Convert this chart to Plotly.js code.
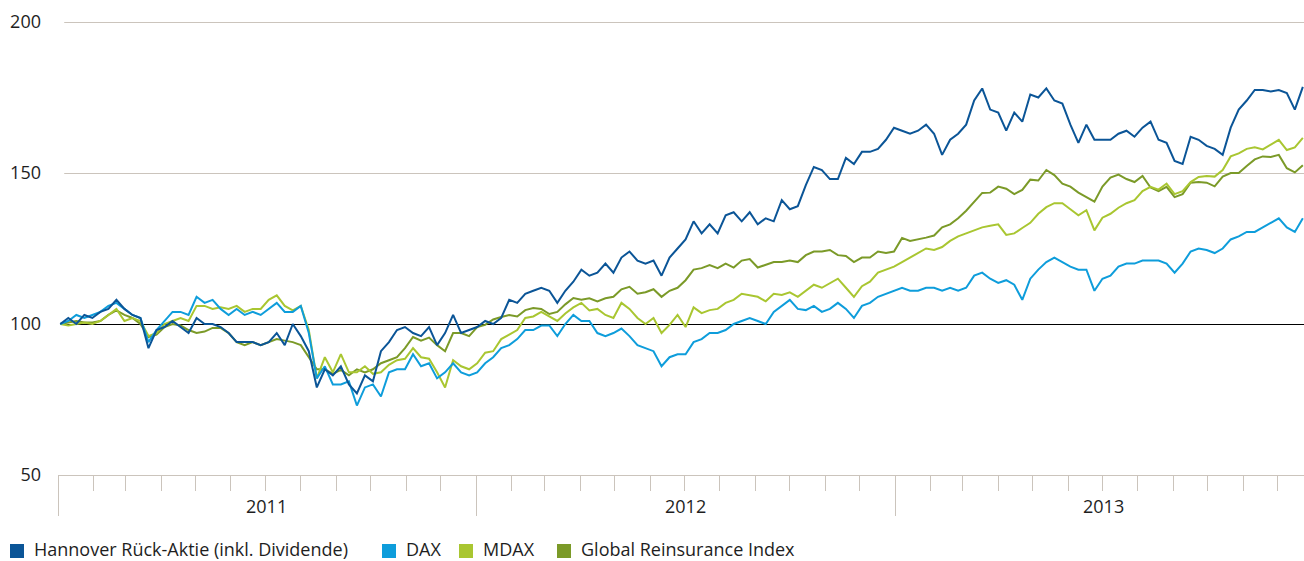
<!DOCTYPE html>
<html>
<head>
<meta charset="utf-8">
<script src="https://cdn.plot.ly/plotly-3.0.1.min.js"></script>
<style>
html,body{margin:0;padding:0;background:#ffffff;}
#chart{width:1304px;height:561px;}
</style>
</head>
<body>
<div id="chart"></div>
<script>
// ---- data (weekly index values, start = 100) ----
const seriesNames = ['Hannover Rück-Aktie (inkl. Dividende)', 'DAX', 'MDAX', 'Global Reinsurance Index'];
const firstWeek = '2011-01-03';
const yearLabels = ['2011', '2012', '2013'];
const yTicks = [50, 100, 150, 200];
const gridValues = [150, 200];
const baseValue = 100;

const hannover = [100,102,100,103,102,104,105,108,105,103, 102,92,98,99,101,99,97,102,100,100,
  99,97,94,94,94,93,94,97,93,100, 96,91,79,85,83,86,80,77,83,81,
  91,94,98,99,97,96,99,93,97,103, 97,98,99,101,100,102,108,107,110,111,
  112,111,107,111,114,118,116,117,120,117, 122,124,121,120,121,116,122,125,128,134,
  130,133,130,136,137,134,137,133,135,134, 141,138,139,146,152,151,148,148,155,153,
  157,157,158,161,165,164,163,164,166,163, 156,161,163,166,174,178,171,170,164,170,
  167,176,175,178,174,173,166,160,166,161, 161,161,163,164,162,165,167,161,160,154,
  153,162,161,159,158,156,165,171,174,177.5, 177.5,177,177.5,176.5,171,178.5];

const dax = [100,101,103,102,103,104,106,107,105,103, 102,94,98,101,104,104,103,109,107,108,
  105,103,105,103,104,103,105,107,104,104, 106,97,82,86,80,80,81,73,79,80,
  76,84,85,85,90,86,87,82,84,87, 84,83,84,87,89,92,93,95,98,98,
  99.5,99.5,96,100,103,101,101,97,96,97, 98.5,96,93,92,91,86,89,90,90,94,
  95,97,97,98,100,101,102,101,100,104, 106,108,105,104.6,106,104,105,107,105,102,
  106,107,109,110,111,112,111,111,112,112, 111,112,111,112,116,117,115,113.6,114.5,113,
  108,115,118,120.5,122,120.5,119,118,118,111, 115,116,119,120,120,121,121,121,120,117,
  120,124,125,124.5,123.5,125,128,129,130.5,130.5, 132,133.5,135,132,130.5,135];

const mdax = [100,99.5,100,100.5,100,101,103,105,101,102, 101,96,97,100,101,102,101,106,106,105,
  105.5,105,106,104,105,105,108,109.5,106,104.5, 106,98,82,89,84,90,84,84,86,83.5,
  84,86.5,88,88.5,92,89,88.5,84,79,88, 86,85,87,90.5,91,95,96.5,98,102,102.5,
  104,102.5,101,103.5,105.5,107,104.5,105,103,102, 107,105,102,100,102,97,99.7,103,99,105.5,
  103.6,104.6,105,107,108,110,109.5,109,107.5,110, 109.6,110.5,109,111,113,112,113.6,115,112,109,
  112.5,114,117,118,119,120.5,122,123.5,125,124.5, 125.5,127.5,129,130,131,132,132.5,133,129.5,130,
  131.8,133.5,136.5,138.7,140,140,138,136,137.7,131, 135.2,136.5,138.5,140,141,144,145.4,144.5,146.5,143,
  144,147,148.7,149,148.8,151,155.5,156.5,158,158.5, 157.8,159.5,161,157.6,158.5,161.6];

const globalRe = [100,100.5,101,100.5,100.5,101,103,104.5,103,102, 100,95.7,96.5,99,100,99.5,98,97,97.5,98.7,
  98.7,97,94,93,94,93,94,95,94.5,94, 93,89,85,85,83.5,84.8,83,85,84,85,
  87,88,89,92,95.7,94.5,95.5,93,91,97, 97,96,99,99.7,101.5,102.3,103,102.5,104.6,105.3,
  105,103.3,104,106.5,108.6,108,108.5,107.5,108.5,109, 111.5,112.3,110,110.5,111.5,109,111,112,114.5,118,
  118.5,119.5,118.5,120,118.7,121,121.5,118.7,119.5,120.5, 120.5,121,120.5,122.8,124,124,124.5,122.8,122.5,120.5,
  122,122,124,123.5,124,128.5,127.5,128,128.6,129.3, 132,133,135,137.5,140.4,143.4,143.5,145.5,144.8,143,
  144.4,147.8,147.5,151,149.3,146.5,145.5,143.5,142,140.5, 145.5,148.5,149.5,148,147,149,145.2,144,145.4,142,
  143,146.8,147,146.8,145.6,148.8,150,150,152.3,154.5, 155.5,155.3,156,151.6,150.2,152.6];

// ---- styles / layout geometry ----
const colors = ['#0b5597', '#0e9ddb', '#a9c631', '#7b9a28'];
const gridColor = '#cbc4bc';
const textColor = '#1e1e1e';
const W = 1304, H = 561, M = {l: 58, r: 0, t: 22, b: 86};
const plotW = W - M.l - M.r, plotH = H - M.t - M.b;
const halfPx = 0.166;               // half a pixel in y units, keeps 1px rules crisp
const legendKeyLeft = [10, 382, 459, 557]; // legend key positions in page pixels
const legendKeySize = 14, legendKeyMidY = 551, legendTextMidY = 549, legendTextGap = 9;

function px2paperX(px) { return (px - M.l) / plotW; }
function px2paperY(py) { return (H - M.b - py) / plotH; }

function weekDates(start, n) {
  const p = start.split('-').map(Number);
  const t0 = Date.UTC(p[0], p[1] - 1, p[2]);
  const out = [];
  for (let i = 0; i < n; i++) {
    out.push(new Date(t0 + i * 7 * 86400000).toISOString().slice(0, 10));
  }
  return out;
}

const allSeries = [hannover, dax, mdax, globalRe];
const dates = weekDates(firstWeek, hannover.length);

const traces = [];
// lines, drawn with Hannover on top
for (let i = allSeries.length - 1; i >= 0; i--) {
  traces.push({
    type: 'scatter', mode: 'lines', x: dates, y: allSeries[i],
    name: seriesNames[i], showlegend: false, hoverinfo: 'skip',
    line: {color: colors[i], width: 2}
  });
}

const shapes = gridValues.map(function (v) {
  return {type: 'line', xref: 'paper', x0: 0.005, x1: 1, yref: 'y', y0: v - halfPx, y1: v - halfPx,
          line: {color: gridColor, width: 1}, layer: 'below'};
});
shapes.push({type: 'line', xref: 'paper', x0: 0.002, x1: 1, yref: 'y', y0: baseValue - halfPx, y1: baseValue - halfPx,
             line: {color: '#000000', width: 1}, layer: 'below'});

const annotations = yearLabels.map(function (yr) {
  return {x: yr + '-07-02', xref: 'x', y: -31 / plotH, yref: 'paper', yanchor: 'middle',
          xanchor: 'center', text: yr, showarrow: false, font: {size: 18, color: textColor}};
});

// legend: square keys + labels
seriesNames.forEach(function (name, i) {
  const left = legendKeyLeft[i];
  shapes.push({type: 'rect', xref: 'paper', yref: 'paper',
               x0: px2paperX(left), x1: px2paperX(left + legendKeySize),
               y0: px2paperY(legendKeyMidY + legendKeySize / 2), y1: px2paperY(legendKeyMidY - legendKeySize / 2),
               fillcolor: colors[i], line: {width: 0}, layer: 'above'});
  annotations.push({x: px2paperX(left + legendKeySize + legendTextGap), xref: 'paper', xanchor: 'left',
                    y: px2paperY(legendTextMidY), yref: 'paper', yanchor: 'middle',
                    text: name, showarrow: false, font: {size: 18, color: textColor}, borderpad: 0});
});

const layout = {
  width: W, height: H,
  margin: {l: M.l, r: M.r, t: M.t, b: M.b, pad: 0, autoexpand: false},
  paper_bgcolor: '#ffffff', plot_bgcolor: '#ffffff',
  font: {family: 'Open Sans, sans-serif', size: 18, color: textColor},
  showlegend: false,
  xaxis: {
    type: 'date', range: ['2011-01-01', '2013-12-24'], fixedrange: true,
    showgrid: false, zeroline: false, showline: true, linecolor: gridColor, linewidth: 1,
    tick0: '2011-01-01', dtick: 'M12', ticks: 'outside', ticklen: 40, tickwidth: 1, tickcolor: gridColor,
    showticklabels: false,
    minor: {tick0: '2011-01-01', dtick: 'M1', ticks: 'outside', ticklen: 15, tickwidth: 1, tickcolor: gridColor, showgrid: false}
  },
  yaxis: {
    range: [50, 200], fixedrange: true, tickmode: 'array', tickvals: yTicks,
    showgrid: false, zeroline: false, showline: false,
    ticks: '', ticklabelstandoff: 16, tickfont: {size: 18, color: textColor}
  },
  shapes: shapes,
  annotations: annotations
};

Plotly.newPlot('chart', traces, layout, {displayModeBar: false, staticPlot: true});
</script>
</body>
</html>
